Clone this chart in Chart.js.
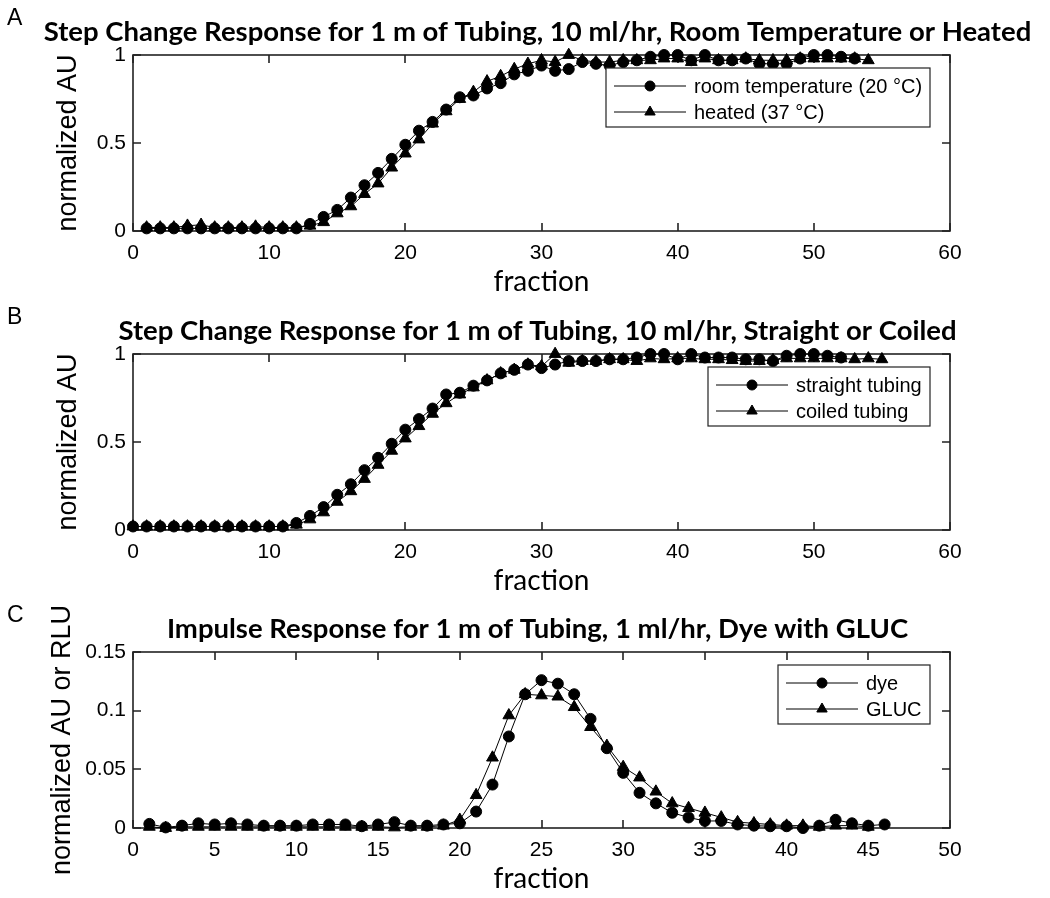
<!DOCTYPE html>
<html>
<head>
<meta charset="utf-8">
<script src="https://cdn.jsdelivr.net/npm/chart.js@4.4.1/dist/chart.umd.min.js"></script>
<style>
  html, body { margin: 0; padding: 0; background: #fff; overflow: hidden; }
  .panel { position: absolute; left: 0; width: 1050px; height: 299px; }
</style>
</head>
<body>
<div class="panel" style="top:0"><canvas id="chartA" width="1050" height="299"></canvas></div>
<div class="panel" style="top:299px"><canvas id="chartB" width="1050" height="299"></canvas></div>
<div class="panel" style="top:597px"><canvas id="chartC" width="1050" height="299"></canvas></div>
<script>
// panel A: room temperature vs heated
const fracA = [1, 2, 3, 4, 5, 6, 7, 8, 9, 10, 11, 12, 13, 14, 15, 16, 17, 18, 19, 20, 21, 22, 23, 24, 25, 26, 27,
  28, 29, 30, 31, 32, 33, 34, 35, 36, 37, 38, 39, 40, 41, 42, 43, 44, 45, 46, 47, 48, 49, 50, 51, 52, 53, 54];
const roomTemp = [0.015, 0.015, 0.015, 0.015, 0.015, 0.015, 0.015, 0.015, 0.015, 0.015, 0.015, 0.015,
  0.04, 0.08, 0.12, 0.19, 0.26, 0.33, 0.41, 0.49, 0.57, 0.62,
  0.69, 0.76, 0.77, 0.81, 0.84, 0.89, 0.91, 0.94, 0.91, 0.92,
  0.96, 0.95, 0.94, 0.96, 0.97, 0.99, 1.0, 1.0, 0.97, 1.0,
  0.97, 0.97, 0.98, 0.95, 0.95, 0.95, 0.98, 1.0, 1.0, 0.99,
  0.98];
const heated = [0.02, 0.02, 0.02, 0.03, 0.035, 0.02, 0.02, 0.02, 0.025, 0.02, 0.02, 0.02,
  0.03, 0.05, 0.10, 0.14, 0.21, 0.27, 0.36, 0.44, 0.52, 0.61,
  0.68, 0.75, 0.79, 0.85, 0.88, 0.92, 0.95, 0.97, 0.96, 1.0,
  0.97, 0.96, 0.96, 0.97, 0.97, 0.97, 0.98, 0.98, 0.96, 0.98,
  0.97, 0.97, 0.98, 0.97, 0.97, 0.97, 0.98, 0.98, 0.98, 0.98,
  0.98, 0.97];

// panel B: straight vs coiled
const fracB = [0, 1, 2, 3, 4, 5, 6, 7, 8, 9, 10, 11, 12, 13, 14, 15, 16, 17, 18, 19, 20, 21, 22, 23, 24, 25, 26, 27,
  28, 29, 30, 31, 32, 33, 34, 35, 36, 37, 38, 39, 40, 41, 42, 43, 44, 45, 46, 47, 48, 49, 50, 51, 52, 53, 54, 55];
const straight = [0.02, 0.02, 0.02, 0.02, 0.02, 0.02, 0.02, 0.02, 0.02, 0.02, 0.02, 0.02,
  0.04, 0.08, 0.13, 0.20, 0.26, 0.34, 0.41, 0.49, 0.57, 0.63,
  0.69, 0.77, 0.78, 0.82, 0.85, 0.89, 0.91, 0.94, 0.92, 0.94,
  0.96, 0.96, 0.96, 0.97, 0.97, 0.98, 1.0, 1.0, 0.97, 1.0,
  0.98, 0.98, 0.98, 0.97, 0.97, 0.96, 0.99, 1.0, 1.0, 0.99,
  0.98];
const coiled = [0.02, 0.02, 0.02, 0.02, 0.02, 0.02, 0.02, 0.02, 0.02, 0.02, 0.02, 0.02,
  0.03, 0.06, 0.10, 0.16, 0.22, 0.29, 0.37, 0.45, 0.52, 0.59,
  0.66, 0.72, 0.77, 0.81, 0.85, 0.89, 0.91, 0.94, 0.93, 1.0,
  0.95, 0.96, 0.96, 0.97, 0.97, 0.96, 0.975, 0.97, 0.975, 0.975,
  0.97, 0.97, 0.965, 0.96, 0.96, 0.965, 0.975, 0.975, 0.975, 0.975,
  0.975, 0.97, 0.975, 0.97];

// panel C: impulse, dye vs GLUC
const fracC = [1, 2, 3, 4, 5, 6, 7, 8, 9, 10, 11, 12, 13, 14, 15, 16, 17, 18, 19, 20, 21, 22, 23,
  24, 25, 26, 27, 28, 29, 30, 31, 32, 33, 34, 35, 36, 37, 38, 39, 40, 41, 42, 43, 44, 45, 46];
const dye = [0.0035, 0.0005, 0.002, 0.004, 0.003, 0.004, 0.003, 0.002, 0.002, 0.002,
  0.003, 0.003, 0.003, 0.0015, 0.003, 0.005, 0.002, 0.002, 0.003, 0.004,
  0.014, 0.037, 0.078, 0.114, 0.126, 0.123, 0.114, 0.093, 0.068, 0.047,
  0.030, 0.021, 0.013, 0.009, 0.006, 0.006, 0.003, 0.002, 0.0015, 0.0015,
  0.0, 0.002, 0.007, 0.004, 0.002, 0.003];
const gluc = [0.001, 0.0, 0.001, 0.001, 0.001, 0.001, 0.001, 0.001, 0.001, 0.001,
  0.001, 0.001, 0.001, 0.001, 0.001, 0.0005, 0.001, 0.001, 0.002, 0.007,
  0.028, 0.060, 0.096, 0.114, 0.113, 0.112, 0.103, 0.086, 0.070, 0.052,
  0.043, 0.031, 0.021, 0.017, 0.013, 0.009, 0.005, 0.004, 0.003, 0.002,
  0.002, 0.001, 0.002, 0.002, 0.001];

const xTicksAB = [0, 10, 20, 30, 40, 50, 60];
const yTicksAB = [0, 0.5, 1];
const xTicksC = [0, 5, 10, 15, 20, 25, 30, 35, 40, 45, 50];
const yTicksC = [0, 0.05, 0.1, 0.15];

const tickFont = {family: 'Liberation Sans', size: 21};

// box round the axes with inward ticks on all four sides, like matlab
const matlabFrame = {
  id: 'matlabFrame',
  beforeDatasetsDraw(chart) {
    const {ctx, chartArea: a, scales: {x, y}} = chart;
    const L = Math.round(a.left), R = Math.round(a.right), T = Math.round(a.top), B = Math.round(a.bottom);
    ctx.save();
    ctx.strokeStyle = '#222';
    ctx.lineWidth = 1.6;
    ctx.strokeRect(L, T, R - L, B - T);
    ctx.beginPath();
    x.ticks.forEach(t => {
      const px = Math.round(x.getPixelForValue(t.value));
      ctx.moveTo(px, B); ctx.lineTo(px, B - 8);
      ctx.moveTo(px, T); ctx.lineTo(px, T + 8);
    });
    y.ticks.forEach(t => {
      const py = Math.round(y.getPixelForValue(t.value));
      ctx.moveTo(L, py); ctx.lineTo(L + 8, py);
      ctx.moveTo(R, py); ctx.lineTo(R - 8, py);
    });
    ctx.stroke();
    ctx.restore();
  }
};

// boxed legend in the upper right corner of the axes
const boxLegend = {
  id: 'boxLegend',
  afterDatasetsDraw(chart) {
    const {ctx, chartArea: a} = chart;
    const sets = chart.data.datasets;
    ctx.save();
    ctx.font = '20px "Liberation Sans"';
    const textW = Math.max(...sets.map(d => ctx.measureText(d.label).width));
    const w = Math.round(88 + textW + 8), h = 59;
    const left = Math.round(a.right - 20 - w), top = Math.round(a.top + 13);
    ctx.fillStyle = '#fff';
    ctx.fillRect(left, top, w, h);
    ctx.strokeStyle = '#222';
    ctx.lineWidth = 1.2;
    ctx.strokeRect(left, top, w, h);
    sets.forEach((d, i) => {
      const y = top + 18 + i * 26;
      ctx.strokeStyle = '#000';
      ctx.fillStyle = '#000';
      ctx.lineWidth = 1;
      ctx.beginPath();
      ctx.moveTo(left + 8, y); ctx.lineTo(left + 80, y);
      ctx.stroke();
      Chart.helpers.drawPoint(ctx, {pointStyle: d.pointStyle, radius: d.pointStyle === 'triangle' ? 6 : 5, rotation: 0, borderWidth: 1}, left + 44, y);
      ctx.textBaseline = 'middle';
      ctx.textAlign = 'left';
      ctx.fillText(d.label, left + 88, y + 1);
    });
    ctx.restore();
  }
};

// panel letter and bold title above the axes
const panelText = {
  id: 'panelText',
  afterDraw(chart, args, opts) {
    const {ctx, chartArea: a} = chart;
    ctx.save();
    ctx.fillStyle = '#000';
    ctx.font = 'bold 27.5px Lato';
    ctx.textAlign = 'center';
    ctx.textBaseline = 'middle';
    ctx.fillText(opts.title, (a.left + a.right) / 2 - 4, a.top - 23);
    ctx.font = '23px "Liberation Sans"';
    ctx.textAlign = 'left';
    ctx.textBaseline = 'top';
    ctx.fillText(opts.letter, 7, a.top - 48);
    ctx.restore();
  }
};

function series(label, xs, ys, style) {
  return {
    label: label,
    data: ys.map((v, i) => ({x: xs[i], y: v})),
    borderColor: '#000',
    backgroundColor: '#000',
    borderWidth: 1,
    pointStyle: style,
    pointRadius: style === 'triangle' ? 6.8 : 5.5,
    pointBorderWidth: 1,
    tension: 0,
    clip: false
  };
}

function makePanel(id, cfg) {
  new Chart(document.getElementById(id), {
    type: 'line',
    data: {datasets: cfg.datasets},
    options: {
      responsive: false,
      animation: false,
      events: [],
      layout: {padding: {top: 55, left: 0, right: 100, bottom: 0}},
      scales: {
        x: {
          type: 'linear',
          min: cfg.xTicks[0],
          max: cfg.xTicks[cfg.xTicks.length - 1],
          afterBuildTicks: s => { s.ticks = cfg.xTicks.map(v => ({value: v})); },
          afterFit: s => { s.height = 68; },
          grid: {display: false, drawTicks: false},
          border: {display: false},
          ticks: {color: '#000', font: tickFont, padding: 10, maxRotation: 0, autoSkip: false, callback: v => String(v)},
          title: {display: true, text: 'fraction', color: '#000', font: {family: 'Lato', size: 28}, padding: {top: 0, bottom: 0}}
        },
        y: {
          type: 'linear',
          min: cfg.yTicks[0],
          max: cfg.yTicks[cfg.yTicks.length - 1],
          afterBuildTicks: s => { s.ticks = cfg.yTicks.map(v => ({value: v})); },
          afterFit: s => { s.width = 133; },
          grid: {display: false, drawTicks: false},
          border: {display: false},
          ticks: {color: '#000', font: tickFont, padding: 7, autoSkip: false, callback: v => String(v)},
          title: {display: true, text: cfg.yTitle, color: '#000', font: {family: 'Liberation Sans', size: 27}, padding: {top: cfg.yTitlePad, bottom: 0}}
        }
      },
      plugins: {
        legend: {display: false},
        tooltip: {enabled: false},
        panelText: {title: cfg.title, letter: cfg.letter}
      }
    },
    plugins: [matlabFrame, boxLegend, panelText]
  });
}

makePanel('chartA', {
  letter: 'A',
  title: 'Step Change Response for 1 m of Tubing, 10 ml/hr, Room Temperature or Heated',
  yTitle: 'normalized AU',
  yTitlePad: 52,
  xTicks: xTicksAB,
  yTicks: yTicksAB,
  datasets: [
    series('room temperature (20 °C)', fracA, roomTemp, 'circle'),
    series('heated (37 °C)', fracA, heated, 'triangle')
  ]
});

makePanel('chartB', {
  letter: 'B',
  title: 'Step Change Response for 1 m of Tubing, 10 ml/hr, Straight or Coiled',
  yTitle: 'normalized AU',
  yTitlePad: 52,
  xTicks: xTicksAB,
  yTicks: yTicksAB,
  datasets: [
    series('straight tubing', fracB, straight, 'circle'),
    series('coiled tubing', fracB, coiled, 'triangle')
  ]
});

makePanel('chartC', {
  letter: 'C',
  title: 'Impulse Response for 1 m of Tubing, 1 ml/hr, Dye with GLUC',
  yTitle: 'normalized AU or RLU',
  yTitlePad: 46,
  xTicks: xTicksC,
  yTicks: yTicksC,
  datasets: [
    series('dye', fracC, dye, 'circle'),
    series('GLUC', fracC, gluc, 'triangle')
  ]
});
</script>
</body>
</html>
